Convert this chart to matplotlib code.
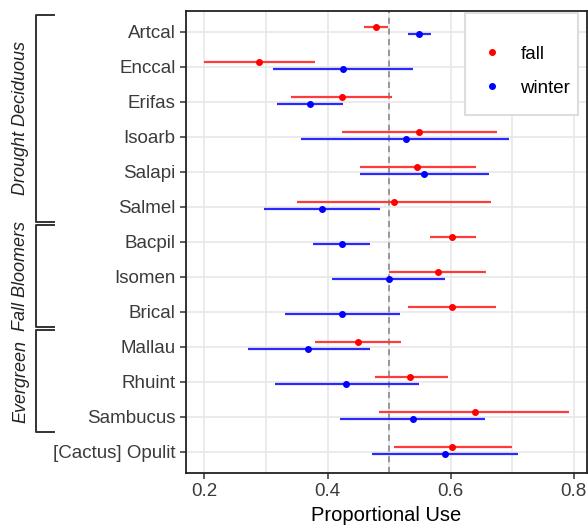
import numpy as np
import matplotlib
matplotlib.use('Agg')
import matplotlib.pyplot as plt
from matplotlib.lines import Line2D
from matplotlib.patches import Rectangle

plt.rcParams['font.family'] = ['Liberation Sans', 'DejaVu Sans']

# data
species = ['Artcal', 'Enccal', 'Erifas', 'Isoarb', 'Salapi', 'Salmel', 'Bacpil',
           'Isomen', 'Brical', 'Mallau', 'Rhuint', 'Sambucus', '[Cactus] Opulit']
fall_mean = [0.479, 0.289, 0.423, 0.549, 0.546, 0.508, 0.602, 0.580, 0.602, 0.449, 0.534, 0.639, 0.602]
fall_lo = [0.460, 0.199, 0.340, 0.423, 0.452, 0.350, 0.566, 0.500, 0.530, 0.379, 0.477, 0.484, 0.508]
fall_hi = [0.499, 0.379, 0.505, 0.675, 0.641, 0.666, 0.641, 0.658, 0.673, 0.519, 0.595, 0.792, 0.700]
winter_mean = [0.549, 0.425, 0.372, 0.527, 0.557, 0.391, 0.423, 0.500, 0.423, 0.369, 0.430, 0.539, 0.591]
winter_lo = [0.530, 0.311, 0.318, 0.357, 0.452, 0.297, 0.377, 0.408, 0.331, 0.270, 0.314, 0.421, 0.472]
winter_hi = [0.568, 0.539, 0.425, 0.695, 0.663, 0.485, 0.469, 0.590, 0.518, 0.469, 0.549, 0.656, 0.709]

group_names = ['Drought Deciduous', 'Fall Bloomers', 'Evergreen']
group_first = ['Artcal', 'Bacpil', 'Mallau']
group_last = ['Salmel', 'Brical', 'Sambucus']

xticks = [0.2, 0.4, 0.6, 0.8]
xlabels = ['0.2', '0.4', '0.6', '0.8']

fig = plt.figure(figsize=(5.88, 5.31), dpi=100)
ax = fig.add_axes([0.3163, 0.1098, 0.6815, 0.8704])

y = np.arange(1, len(species) + 1)
center = -0.02
dodge = 0.1
tick_col = '#3b3b3b'

# grid
ax.set_xlim(0.17, 0.821)
ax.set_ylim(len(species) + 0.6, 0.4)
ax.set_xticks(xticks)
ax.set_xticklabels(xlabels)
ax.set_xticks([0.3, 0.5, 0.7], minor=True)
ax.set_yticks(y)
ax.set_yticklabels(species)
ax.grid(True, which='both', color='#e6e6e6', lw=1.1, zorder=0)
ax.tick_params(which='minor', length=0)
ax.tick_params(which='major', length=4.5, width=1.1, color='#333333',
               labelsize=13.5, labelcolor=tick_col, pad=3)
ax.set_axisbelow(True)
for s in ax.spines.values():
    s.set_color('#222222')
    s.set_linewidth(1.3)

ax.axvline(0.5, color='#808080', lw=1.1, ls=(0, (4, 3)), zorder=1)

# fall / winter point ranges
yf = y + center - dodge
yw = y + center + dodge
ax.hlines(yf, fall_lo, fall_hi, color='#ff3a3a', lw=1.6, zorder=2)
ax.plot(fall_mean, yf, 'o', color='red', ms=4, zorder=3)
ax.hlines(yw, winter_lo, winter_hi, color='#2a2aff', lw=1.6, zorder=2)
ax.plot(winter_mean, yw, 'o', color='blue', ms=4, zorder=3)

ax.set_xlabel('Proportional Use', fontsize=14.5, color='black', labelpad=4)

# legend: box drawn separately, entries from ax.legend
ax.add_patch(Rectangle((0.6963, 0.7739), 0.2828, 0.220, transform=ax.transAxes,
                       facecolor='white', edgecolor='#dddddd', lw=1.5, zorder=4))
handles = [Line2D([], [], marker='o', ls='none', color='red', ms=4),
           Line2D([], [], marker='o', ls='none', color='blue', ms=4)]
leg = ax.legend(handles, ['fall', 'winter'], loc='upper left',
                bbox_to_anchor=(0.741, 0.9235), borderaxespad=0, borderpad=0,
                fontsize=13.5, handlelength=1.0, handletextpad=1.0,
                labelspacing=0.9, frameon=False)
leg.set_zorder(5)

# group brackets on the left
tr = ax.get_yaxis_transform()
idx = {s: i + 1 for i, s in enumerate(species)}
x_bar = -0.3744
x_arm = -0.329
for name, first, last in zip(group_names, group_first, group_last):
    y0 = idx[first] - 0.475
    y1 = idx[last] + 0.44
    ax.plot([x_arm, x_bar, x_bar, x_arm], [y0, y0, y1, y1], color='#333333',
            lw=1.4, transform=tr, clip_on=False)
    ax.text(-0.412, (y0 + y1) / 2, name, transform=tr, rotation=90,
            ha='center', va='center', style='italic', fontsize=13,
            color='#222222', clip_on=False)

fig.savefig('out.png', dpi=100)
